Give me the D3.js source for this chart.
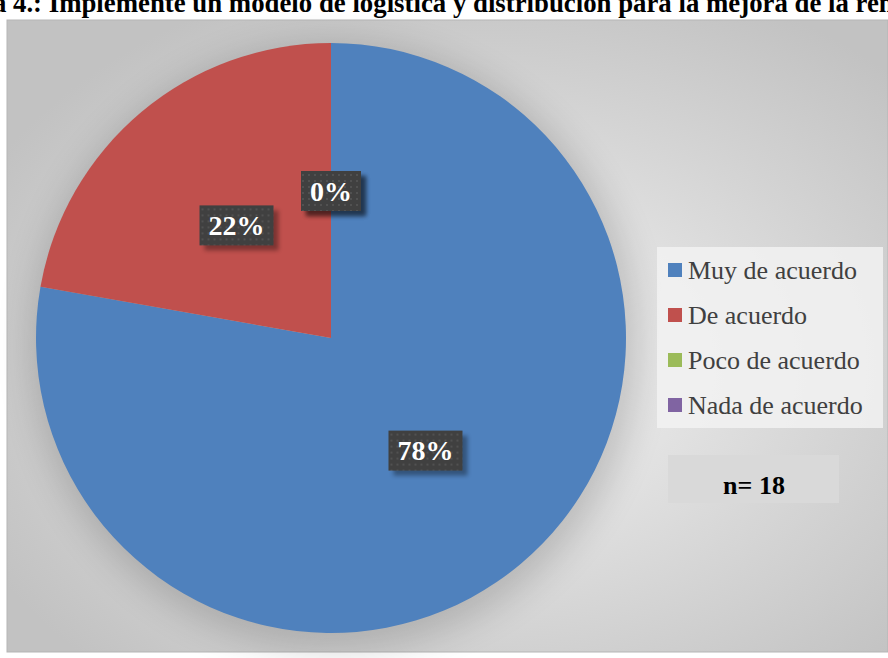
<!DOCTYPE html>
<html>
<head>
<meta charset="utf-8">
<script src="https://cdn.jsdelivr.net/npm/d3@7"></script>
<style>
  body { margin: 0; background: #fff; }
  svg { display: block; }
</style>
</head>
<body>
<div id="chart"></div>
<script>
var categories = ["Muy de acuerdo", "De acuerdo", "Poco de acuerdo", "Nada de acuerdo"];
var values = [14, 4, 0, 0];
var colors = ["#4f81bd", "#c0504d", "#9bbb59", "#8064a2"];
var titleText = "Figura 4.: Implemente un modelo de logística y distribución para la mejora de la rentabilidad";
var nText = "n= 18";

var W = 888, H = 658;
var svg = d3.select("#chart").append("svg")
    .attr("width", W)
    .attr("height", H);

var defs = svg.append("defs");

// background gradient of the plot area
var bg = defs.append("radialGradient")
    .attr("id", "bgGrad")
    .attr("cx", "55%").attr("cy", "55%").attr("r", "65%");
bg.append("stop").attr("offset", "0%").attr("stop-color", "#f3f3f3");
bg.append("stop").attr("offset", "100%").attr("stop-color", "#c2c2c2");

var blur = defs.append("filter").attr("id", "soft")
    .attr("x", "-20%").attr("y", "-20%").attr("width", "140%").attr("height", "140%");
blur.append("feGaussianBlur").attr("stdDeviation", 18);

var lblShadow = defs.append("filter").attr("id", "lblShadow")
    .attr("x", "-30%").attr("y", "-30%").attr("width", "160%").attr("height", "160%");
lblShadow.append("feGaussianBlur").attr("stdDeviation", 2);

// dotted pattern for the data label boxes
var pat = defs.append("pattern").attr("id", "dots")
    .attr("width", 6).attr("height", 6)
    .attr("patternUnits", "userSpaceOnUse");
pat.append("rect").attr("width", 6).attr("height", 6).attr("fill", "#404040");
pat.append("rect").attr("x", 1).attr("y", 1).attr("width", 2).attr("height", 2).attr("fill", "#515151");

// plot area
svg.append("rect")
    .attr("x", 7).attr("y", 20)
    .attr("width", W - 7).attr("height", 632)
    .attr("fill", "url(#bgGrad)")
    .attr("stroke", "#b5b5b5")
    .attr("stroke-width", 1);

// title (clipped by the top edge)
var title = svg.append("text")
    .attr("y", 12)
    .attr("font-family", "Liberation Serif, Times New Roman, serif")
    .attr("font-weight", "bold")
    .attr("font-size", 26.8)
    .attr("fill", "#000")
    .text(titleText);
var prefixW = title.node().getSubStringLength(0, titleText.indexOf("4"));
title.attr("x", 13 - prefixW);

// pie
var cx = 331, cy = 338, radius = 295;

var data = categories.map(function(c, i) {
  return {name: c, value: values[i], color: colors[i]};
});
var total = d3.sum(values);

var pie = d3.pie()
    .sort(null)
    .value(function(d) { return d.value; });
var arcs = pie(data);

var arc = d3.arc().innerRadius(0).outerRadius(radius);
var labelArc = d3.arc().innerRadius(147).outerRadius(147);

var g = svg.append("g").attr("transform", "translate(" + cx + "," + cy + ")");

g.append("circle")
    .attr("cx", 4).attr("cy", 8)
    .attr("r", radius + 8)
    .attr("fill", "#000")
    .attr("opacity", 0.17)
    .attr("filter", "url(#soft)");

g.selectAll("path.slice")
    .data(arcs)
    .enter()
    .append("path")
    .attr("class", "slice")
    .attr("d", arc)
    .attr("fill", function(d) { return d.data.color; });

// data labels
var fmt = d3.format(".0%");
var labels = g.selectAll("g.lbl")
    .data(arcs)
    .enter()
    .append("g")
    .attr("class", "lbl")
    .attr("transform", function(d) {
      var c = labelArc.centroid(d);
      return "translate(" + c[0] + "," + c[1] + ")";
    });

labels.each(function(d) {
  var sel = d3.select(this);
  var t = sel.append("text")
      .attr("text-anchor", "middle")
      .attr("dy", "0.35em")
      .attr("font-family", "Liberation Serif, Times New Roman, serif")
      .attr("font-weight", "bold")
      .attr("font-size", 28)
      .attr("fill", "#fff")
      .text(fmt(d.data.value / total));
  var w = t.node().getComputedTextLength() + 18, h = 40;
  sel.insert("rect", "text")
      .attr("x", -w / 2 + 5).attr("y", -h / 2 + 5)
      .attr("width", w).attr("height", h)
      .attr("fill", "#000").attr("opacity", 0.35)
      .attr("filter", "url(#lblShadow)");
  sel.insert("rect", "text")
      .attr("x", -w / 2).attr("y", -h / 2)
      .attr("width", w).attr("height", h)
      .attr("fill", "url(#dots)");
});

// legend
var legend = svg.append("g").attr("transform", "translate(657,247)");
legend.append("rect")
    .attr("width", 226).attr("height", 181)
    .attr("fill", "#f2f2f2").attr("opacity", 0.85);

var items = legend.selectAll("g.item")
    .data(data)
    .enter()
    .append("g")
    .attr("class", "item")
    .attr("transform", function(d, i) { return "translate(11," + (23 + i * 45) + ")"; });
items.append("rect")
    .attr("x", 0).attr("y", -7)
    .attr("width", 14).attr("height", 14)
    .attr("fill", function(d) { return d.color; });
items.append("text")
    .attr("x", 20)
    .attr("dy", "0.35em")
    .attr("font-family", "Liberation Serif, Times New Roman, serif")
    .attr("font-size", 26)
    .attr("fill", "#404040")
    .text(function(d) { return d.name; });

// n box
var nb = svg.append("g").attr("transform", "translate(668,455)");
nb.append("rect")
    .attr("width", 171).attr("height", 48)
    .attr("fill", "#d9d9d9");
nb.append("text")
    .attr("x", 86).attr("y", 39)
    .attr("text-anchor", "middle")
    .attr("font-family", "Liberation Serif, Times New Roman, serif")
    .attr("font-weight", "bold")
    .attr("font-size", 26)
    .attr("fill", "#000")
    .text(nText);
</script>
</body>
</html>
